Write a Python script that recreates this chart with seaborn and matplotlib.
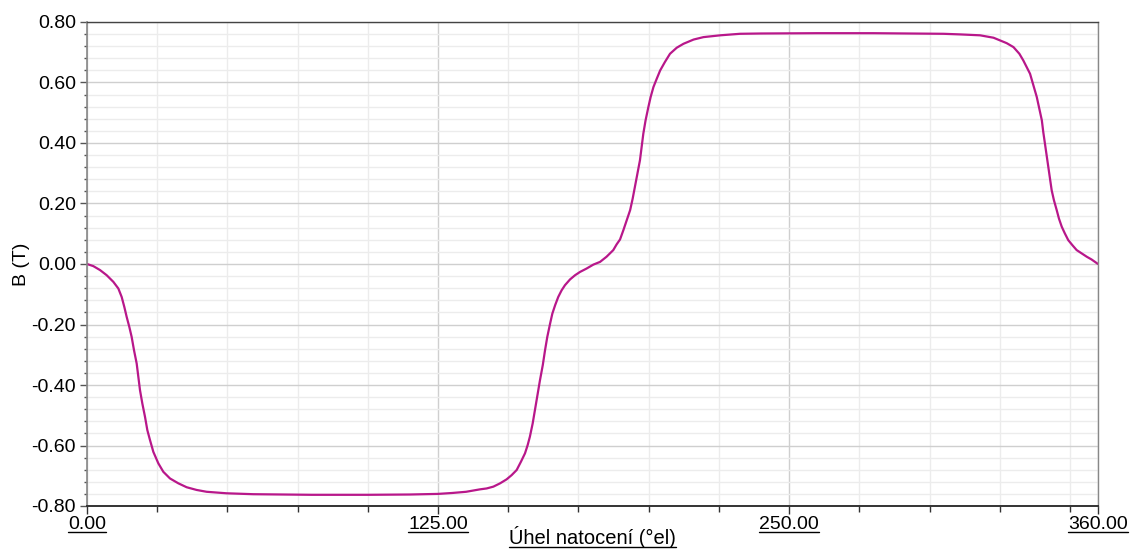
import matplotlib
matplotlib.use("Agg")
import matplotlib.pyplot as plt
from matplotlib.ticker import MultipleLocator, FixedLocator, FormatStrFormatter
from matplotlib.lines import Line2D
import seaborn as sns
import pandas as pd

# Data (electrical angle in degrees, flux density in T)
angle_deg = [0, 2.25, 4.63, 7.0, 9.38, 11.16, 12.35, 13.29, 14.13, 15.07, 15.9, 16.74,
             17.69, 18.28, 18.87, 19.7, 20.65, 21.48, 22.43, 23.62, 25.4, 27.18, 29.56,
             32.52, 35.49, 39.05, 42.6, 49.73, 59.2, 68.7, 80, 100, 115, 125, 130, 135,
             139.9, 142.3, 144.7, 147.1, 149.4, 151.2, 153.0, 154.5, 155.96, 156.9,
             157.7, 158.7, 159.5, 160.4, 161.3, 162.3, 163.1, 163.9, 164.9, 165.7,
             166.7, 167.8, 169.0, 170.2, 172.0, 173.8, 175.6, 177.9, 180.3, 182.7,
             185.0, 187.4, 188.6, 189.8, 191.0, 192.2, 193.4, 194.3, 195.1, 196.0,
             196.9, 197.5, 198.1, 198.9, 199.9, 200.7, 201.7, 202.9, 204.1, 205.8,
             207.6, 210.0, 212.4, 216.0, 219.5, 225.5, 232.5, 240, 260, 280, 295, 305,
             310.9, 318.0, 322.8, 325.1, 327.5, 329.9, 332.0, 333.4, 334.6, 335.8,
             337.0, 338.2, 339.1, 340.0, 340.5, 341.1, 341.7, 342.3, 342.9, 343.5,
             344.3, 345.3, 346.1, 347.1, 348.2, 349.4, 350.9, 352.4, 354.2, 356.0,
             357.7, 360]
b_tesla = [0.0, -0.007, -0.020, -0.037, -0.059, -0.081, -0.109, -0.142, -0.175, -0.208,
           -0.241, -0.285, -0.329, -0.373, -0.417, -0.461, -0.505, -0.549, -0.582,
           -0.621, -0.659, -0.687, -0.709, -0.725, -0.738, -0.747, -0.753, -0.758,
           -0.761, -0.762, -0.763, -0.763, -0.762, -0.760, -0.757, -0.753,
           -0.745, -0.742, -0.736, -0.725, -0.712, -0.698, -0.681, -0.654, -0.626,
           -0.599, -0.571, -0.527, -0.483, -0.433, -0.384, -0.334, -0.285, -0.241,
           -0.197, -0.164, -0.136, -0.109, -0.087, -0.070, -0.051, -0.037, -0.026,
           -0.015, -0.002, 0.007, 0.024, 0.046, 0.065, 0.081, 0.112, 0.145, 0.178,
           0.216, 0.255, 0.299, 0.343, 0.387, 0.431, 0.475, 0.519, 0.552, 0.585,
           0.613, 0.640, 0.668, 0.695, 0.715, 0.728, 0.742, 0.750, 0.756, 0.761,
           0.762, 0.763, 0.763, 0.762, 0.761,
           0.759, 0.756, 0.748, 0.739, 0.730, 0.717, 0.695, 0.673, 0.651, 0.629,
           0.591, 0.552, 0.514, 0.475, 0.437, 0.398, 0.359, 0.321, 0.282, 0.244,
           0.211, 0.178, 0.150, 0.123, 0.101, 0.079, 0.062, 0.046, 0.035, 0.024,
           0.015, 0.0]

x_major_ticks = [0, 125, 250, 360]
x_label = "Úhel natocení (°el)"
y_label = "B (T)"

sns.set_theme(style="white")
plt.rcParams["font.family"] = ["Liberation Sans", "DejaVu Sans"]
plt.rcParams["axes.unicode_minus"] = False
plt.rcParams["text.color"] = "black"
plt.rcParams["axes.labelcolor"] = "black"
plt.rcParams["xtick.color"] = "black"
plt.rcParams["ytick.color"] = "black"

fig = plt.figure(figsize=(11.31, 5.51), dpi=100)
ax = fig.add_axes([87 / 1131, 45 / 551, 1011 / 1131, 484 / 551])

df = pd.DataFrame({"x": angle_deg, "y": b_tesla})
sns.lineplot(data=df, x="x", y="y", ax=ax, color="#B8178A", linewidth=1.6,
             sort=False, estimator=None, solid_joinstyle="round",
             solid_capstyle="round")

ax.set_xlim(0, 360)
ax.set_ylim(-0.8, 0.8)
ax.xaxis.set_major_locator(FixedLocator(x_major_ticks))
ax.xaxis.set_minor_locator(MultipleLocator(25))
ax.xaxis.set_major_formatter(FormatStrFormatter("%.2f"))
ax.yaxis.set_major_locator(MultipleLocator(0.2))
ax.yaxis.set_minor_locator(MultipleLocator(0.04))
ax.yaxis.set_major_formatter(FormatStrFormatter("%.2f"))

ax.grid(which="major", color="#cfcfcf", linewidth=1.0)
ax.grid(which="minor", color="#ececec", linewidth=1.0)
ax.set_axisbelow(True)

ax.tick_params(axis="x", which="major", direction="out", length=6, width=1,
               color="#333333", labelcolor="black", labelsize=14, pad=1.5, bottom=True)
ax.tick_params(axis="x", which="minor", direction="out", length=4, width=1,
               color="#333333", bottom=True)
ax.tick_params(axis="y", which="major", direction="out", length=5, width=1,
               color="#555555", labelcolor="black", labelsize=14, pad=3, left=True)
ax.tick_params(axis="y", which="minor", direction="out", length=2.5, width=1,
               color="#555555", left=True)

for side, col, lw in [("bottom", "#333333", 1.4), ("top", "#444444", 1.0),
                      ("left", "#888888", 1.2), ("right", "#888888", 1.0)]:
    ax.spines[side].set_visible(True)
    ax.spines[side].set_color(col)
    ax.spines[side].set_linewidth(lw)

ax.set_xlabel(x_label, fontsize=14.5, color="black", va="baseline")
ax.xaxis.set_label_coords(0.5, -38 / 484)
ax.set_ylabel(y_label, fontsize=14, labelpad=1, color="black")

# underline x tick labels and x axis label
fig.canvas.draw()
renderer = fig.canvas.get_renderer()
W, H = fig.bbox.width, fig.bbox.height
for t in list(ax.get_xticklabels()) + [ax.xaxis.label]:
    if not t.get_text():
        continue
    bb = t.get_window_extent(renderer)
    y = bb.y0 + 1.0
    fig.add_artist(Line2D([bb.x0 / W, bb.x1 / W], [y / H, y / H],
                          transform=fig.transFigure, color="black", linewidth=1.0))

fig.savefig("out.png", dpi=100)
